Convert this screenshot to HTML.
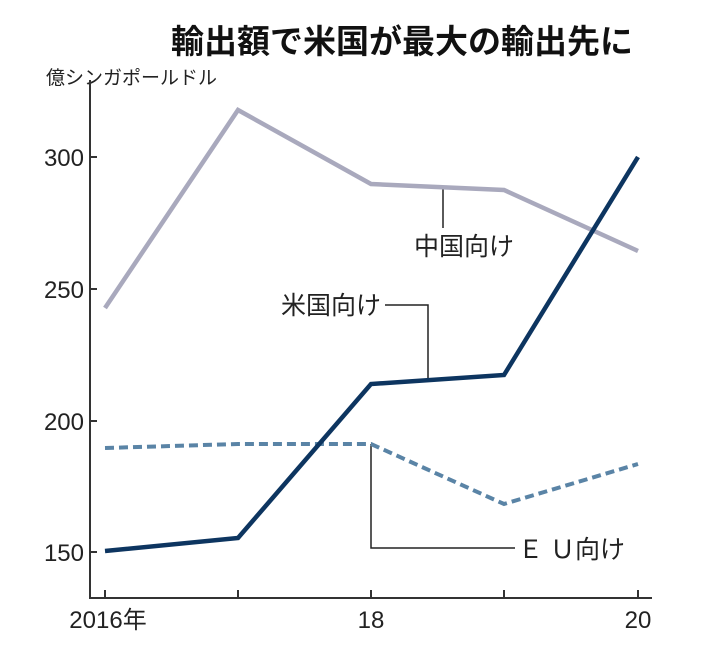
<!DOCTYPE html>
<html><head><meta charset="utf-8"><style>
body{margin:0;background:#fff;}
svg{display:block;font-family:"Liberation Sans","Noto Sans CJK JP",sans-serif;}
</style></head><body>
<svg width="705" height="648" viewBox="0 0 705 648">
<text x="402" y="53" text-anchor="middle" font-size="33" font-weight="bold" fill="#111">輸出額で米国が最大の輸出先に</text>
<text x="46" y="84" font-size="19" fill="#222">億シンガポールドル</text>
<g stroke="#333" stroke-width="2" fill="none">
<line x1="90" y1="80" x2="90" y2="598"/>
<line x1="89" y1="598" x2="652" y2="598"/>
<line x1="90" y1="157" x2="97" y2="157"/>
<line x1="90" y1="289" x2="97" y2="289"/>
<line x1="90" y1="421" x2="97" y2="421"/>
<line x1="90" y1="552" x2="97" y2="552"/>
<line x1="105" y1="598" x2="105" y2="590"/>
<line x1="238" y1="598" x2="238" y2="590"/>
<line x1="371" y1="598" x2="371" y2="590"/>
<line x1="504" y1="598" x2="504" y2="590"/>
<line x1="638" y1="598" x2="638" y2="590"/>
</g>
<g font-size="24" fill="#222" text-anchor="end">
<text x="84" y="166">300</text>
<text x="84" y="298">250</text>
<text x="84" y="430">200</text>
<text x="84" y="561">150</text>
</g>
<g font-size="24" fill="#222" text-anchor="middle">
<text x="108" y="628">2016年</text>
<text x="371" y="628">18</text>
<text x="638" y="628">20</text>
</g>
<g stroke="#222" stroke-width="1.5" fill="none">
<polyline points="443,186 443,228"/>
<polyline points="385,305 428,305 428,378"/>
<polyline points="371,444 371,548 515,548"/>
</g>
<polyline points="105,308 238,110 371,184 504,190 638,251" fill="none" stroke="#a9a9bd" stroke-width="4.5"/>
<polyline points="105,448 238,444 371,444 504,504 638,464" fill="none" stroke="#5a84a6" stroke-width="4" stroke-dasharray="9,5"/>
<polyline points="105,551 238,538 371,384 504,375 638,157" fill="none" stroke="#0d3560" stroke-width="4.5"/>
<g font-size="25" fill="#222">
<text x="414" y="255">中国向け</text>
<text x="281" y="314">米国向け</text>
<text x="518" y="558">Ｅ Ｕ向け</text>
</g>
</svg>
</body></html>
